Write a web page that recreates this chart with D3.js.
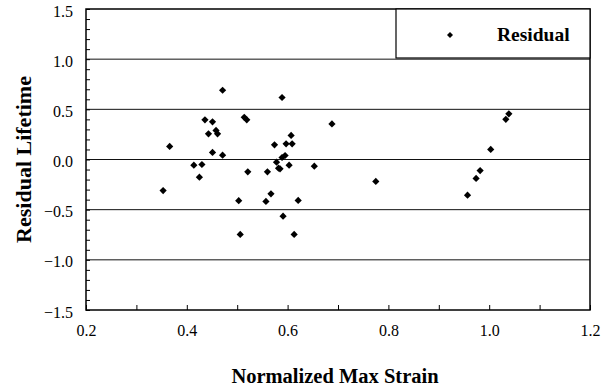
<!DOCTYPE html>
<html>
<head>
<meta charset="utf-8">
<script src="https://cdn.jsdelivr.net/npm/d3@7"></script>
<style>
  body { margin: 0; background: #fff; }
  svg text { font-family: "Liberation Serif", "Times New Roman", serif; fill: #000; }
</style>
</head>
<body>
<svg id="chart"></svg>
<script>
const strain = [0.471, 0.436, 0.451, 0.514, 0.519, 0.458, 0.443, 0.461, 0.366, 0.451,
  0.471, 0.414, 0.430, 0.521, 0.425, 0.353, 0.503, 0.506,
  0.589, 0.688, 0.607, 0.574, 0.597, 0.609, 0.595, 0.589, 0.578, 0.582,
  0.585, 0.603, 0.653, 0.560, 0.567, 0.557, 0.621, 0.591, 0.613,
  0.775, 0.957, 0.974, 0.982, 1.003, 1.033, 1.039];
const residual = [0.69, 0.395, 0.375, 0.42, 0.395, 0.29, 0.256, 0.256, 0.13, 0.07,
  0.043, -0.057, -0.05, -0.123, -0.176, -0.31, -0.41, -0.747,
  0.618, 0.355, 0.24, 0.146, 0.156, 0.156, 0.04, 0.02, -0.027, -0.087,
  -0.093, -0.057, -0.067, -0.123, -0.342, -0.418, -0.408, -0.565, -0.747,
  -0.219, -0.356, -0.189, -0.11, 0.10, 0.40, 0.455];
const xTicks = [0.2, 0.4, 0.6, 0.8, 1.0, 1.2];
const yTicks = [-1.5, -1.0, -0.5, 0.0, 0.5, 1.0, 1.5];
const seriesName = "Residual";

const W = 610, H = 388;
const pLeft = 86, pRight = 590, pTop = 9, pBottom = 310;
const serif = "'Liberation Serif', 'Times New Roman', serif";

const svg = d3.select("#chart").attr("width", W).attr("height", H);

const x = d3.scaleLinear().domain([0.2, 1.2]).range([pLeft, pRight]);
const y = d3.scaleLinear().domain([-1.5, 1.5]).range([pBottom, pTop]);

// horizontal gridlines
svg.append("g")
  .selectAll("line")
  .data(yTicks.filter(d => d > -1.5 && d < 1.5))
  .join("line")
  .attr("x1", pLeft).attr("x2", pRight)
  .attr("y1", d => y(d)).attr("y2", d => y(d))
  .attr("stroke", "#111").attr("stroke-width", 1);

// minor ticks (inward)
const minor = d3.range(0, 31).map(i => -1.5 + i * 0.1);
svg.append("g")
  .attr("transform", `translate(${pLeft},0)`)
  .call(d3.axisRight(y).tickValues(minor).tickSize(4).tickFormat(""))
  .call(g => g.select(".domain").remove());
const minorX = d3.range(0, 11).map(i => 0.2 + i * 0.1);
svg.append("g")
  .attr("transform", `translate(0,${pBottom})`)
  .call(d3.axisTop(x).tickValues(minorX).tickSize(5).tickFormat(""))
  .call(g => g.select(".domain").remove());

// tick labels
svg.append("g")
  .attr("transform", `translate(${pLeft},2)`)
  .call(d3.axisLeft(y).tickValues(yTicks).tickSize(0).tickPadding(13).tickFormat(d3.format(".1f")))
  .attr("font-family", serif)
  .call(g => g.select(".domain").remove())
  .call(g => g.selectAll("text").style("font-family", serif).attr("font-size", 16));
svg.append("g")
  .attr("transform", `translate(0,${pBottom})`)
  .call(d3.axisBottom(x).tickValues(xTicks).tickSize(0).tickPadding(15).tickFormat(d3.format(".1f")))
  .attr("font-family", serif)
  .call(g => g.select(".domain").remove())
  .call(g => g.selectAll("text").style("font-family", serif).attr("font-size", 16));

// frame
svg.append("rect")
  .attr("x", pLeft).attr("y", pTop)
  .attr("width", pRight - pLeft).attr("height", pBottom - pTop)
  .attr("fill", "none").attr("stroke", "#000").attr("stroke-width", 1.5);

// points (square turned 45deg, like the Excel diamond)
const marker = d3.symbol().type(d3.symbolSquare).size(26);
svg.append("g")
  .selectAll("path")
  .data(strain.map((s, i) => [s, residual[i]]))
  .join("path")
  .attr("d", marker)
  .attr("transform", d => `translate(${x(d[0])},${y(d[1])}) rotate(45)`)
  .attr("fill", "#000");

// legend
const lg = svg.append("g");
lg.append("rect")
  .attr("x", 396).attr("y", pTop)
  .attr("width", pRight - 396).attr("height", 49)
  .attr("fill", "#fff").attr("stroke", "#000").attr("stroke-width", 1.2);
lg.append("path")
  .attr("d", d3.symbol().type(d3.symbolSquare).size(18))
  .attr("transform", "translate(450,35) rotate(45)");
lg.append("text")
  .attr("x", 497).attr("y", 41)
  .attr("font-size", 19.5).attr("font-weight", "bold")
  .text(seriesName);

// axis titles
svg.append("text")
  .attr("x", (pLeft + pRight) / 2 - 3).attr("y", 383)
  .attr("text-anchor", "middle")
  .attr("font-size", 20.5).attr("font-weight", "bold")
  .text("Normalized Max Strain");
svg.append("text")
  .attr("transform", `translate(31,${(pTop + pBottom) / 2}) rotate(-90)`)
  .attr("text-anchor", "middle")
  .attr("font-size", 22).attr("font-weight", "bold")
  .text("Residual Lifetime");
</script>
</body>
</html>
